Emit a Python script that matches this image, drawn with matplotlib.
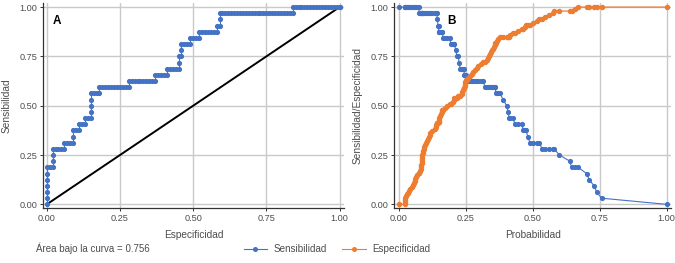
import numpy as np
import matplotlib
matplotlib.use('Agg')
import matplotlib.pyplot as plt
from matplotlib.lines import Line2D

# predicted probabilities of the 32 cases (in panel B)
prob_pos = [0.075, 0.142, 0.145, 0.149, 0.163, 0.190, 0.208, 0.213, 0.222, 0.226,
            0.244, 0.250, 0.316, 0.360, 0.378, 0.390, 0.403, 0.409, 0.425, 0.460,
            0.475, 0.482, 0.525, 0.580, 0.600, 0.639, 0.670, 0.701, 0.711, 0.729,
            0.739, 0.757]

# predicted probabilities of the 100 controls (in panel B)
prob_neg = [0.0240, 0.0245, 0.0250, 0.0255, 0.0260, 0.030, 0.035, 0.040, 0.043, 0.050,
            0.055, 0.058, 0.060, 0.062, 0.065, 0.067, 0.077, 0.080, 0.0840, 0.0845,
            0.0850, 0.0855, 0.0860, 0.0865, 0.0870, 0.0880, 0.090, 0.092, 0.094, 0.096,
            0.098, 0.102, 0.106, 0.110, 0.113, 0.116, 0.118, 0.126, 0.134, 0.138,
            0.140, 0.147, 0.150, 0.151, 0.152, 0.154, 0.157, 0.160, 0.166, 0.172,
            0.180, 0.195, 0.202, 0.206, 0.218, 0.230, 0.235, 0.238, 0.241, 0.245,
            0.246, 0.247, 0.249, 0.255, 0.260, 0.266, 0.272, 0.279, 0.285, 0.292,
            0.298, 0.306, 0.322, 0.328, 0.333, 0.338, 0.342, 0.345, 0.348, 0.352,
            0.355, 0.358, 0.363, 0.366, 0.370, 0.412, 0.415, 0.435, 0.447, 0.465,
            0.470, 0.490, 0.500, 0.515, 0.535, 0.545, 0.560, 0.575, 0.645, 0.658]

ticks = [0.0, 0.25, 0.5, 0.75, 1.0]
tick_labels = ['0.00', '0.25', '0.50', '0.75', '1.00']

blue = '#4472C4'
orange = '#ED7D31'
grid_c = '#C9C9C9'
txt_c = '#4D4D4D'

plt.rcParams['font.family'] = ['Liberation Sans', 'DejaVu Sans']

pos = np.array(prob_pos)
neg = np.array(prob_neg)
thr = np.concatenate([[0.0], np.unique(np.concatenate([pos, neg])), [1.0]])
sens = np.array([(pos >= t).mean() for t in thr])
spec = np.array([(neg < t).mean() for t in thr])
auc = np.mean([(p > neg).mean() + 0.5 * (p == neg).mean() for p in pos])

fig = plt.figure(figsize=(6.75, 2.63), dpi=100)
axA = fig.add_axes([0.0641, 0.208, 0.445, 0.780])
axB = fig.add_axes([0.584, 0.208, 0.410, 0.780])


def style(ax, xlim):
    ax.set_xlim(*xlim)
    ax.set_ylim(-0.02, 1.02)
    ax.set_xticks(ticks)
    ax.set_xticklabels(tick_labels)
    ax.set_yticks(ticks)
    ax.set_yticklabels(tick_labels)
    ax.grid(True, color=grid_c, lw=1.0, zorder=0)
    ax.set_axisbelow(True)
    for s in ['top', 'right']:
        ax.spines[s].set_visible(False)
    for s in ['left', 'bottom']:
        ax.spines[s].set_color('#333333')
        ax.spines[s].set_linewidth(0.9)
    ax.tick_params(labelsize=6.6, colors=txt_c, length=2.2, width=0.7,
                   pad=2, color='#333333')


# panel A: ROC curve
style(axA, (-0.012, 1.014))
axA.plot([0, 1], [0, 1], color='black', lw=1.4, zorder=2)
axA.plot(1 - spec, sens, color=blue, lw=0.8, marker='o', ms=2.7,
         mec=blue, mfc=blue, zorder=3)
axA.set_xlabel('Especificidad', fontsize=7.3, color=txt_c)
axA.set_ylabel('Sensibilidad', fontsize=7.3, color=txt_c)
axA.xaxis.set_label_coords(0.5, -0.108)
axA.yaxis.set_label_coords(-0.104, 0.5)
axA.text(0.03, 0.94, 'A', transform=axA.transAxes, fontsize=8.5,
         fontweight='bold', ha='left', va='top')

# panel B: sensitivity / specificity against the cut-off
style(axB, (-0.0165, 1.016))
axB.plot(thr, sens, color=blue, lw=0.8, marker='o', ms=2.7, zorder=3)
axB.plot(thr, spec, color=orange, lw=0.9, marker='o', ms=2.9, zorder=3)
axB.set_xlabel('Probabilidad', fontsize=7.3, color=txt_c)
axB.set_ylabel('Sensibilidad/Especificidad', fontsize=7.3, color=txt_c)
axB.xaxis.set_label_coords(0.5, -0.108)
axB.yaxis.set_label_coords(-0.113, 0.5)
axB.text(0.19, 0.94, 'B', transform=axB.transAxes, fontsize=8.5,
         fontweight='bold', ha='left', va='top')

fig.text(0.054, 0.055, 'Área bajo la curva = %.3f' % auc, fontsize=7,
         color=txt_c, ha='left', va='center')

handles = [Line2D([], [], color=blue, lw=0.8, marker='o', ms=2.6),
           Line2D([], [], color=orange, lw=0.8, marker='o', ms=2.6)]
fig.legend(handles, ['Sensibilidad', 'Especificidad'], loc='center',
           bbox_to_anchor=(0.499, 0.053), ncol=2, frameon=False, fontsize=7.1,
           handlelength=2.4, columnspacing=1.6, handletextpad=0.6,
           labelcolor=txt_c)

fig.savefig('out.png', dpi=100)
